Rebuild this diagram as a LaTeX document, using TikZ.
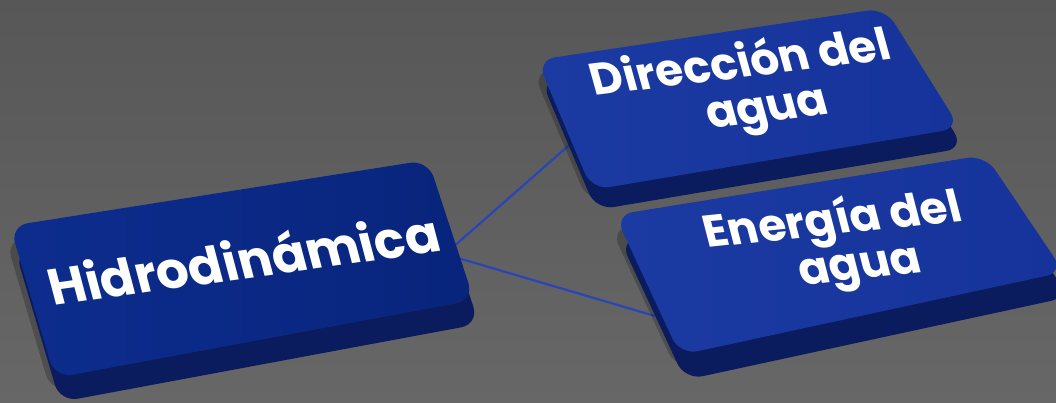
\documentclass[tikz,border=0pt]{standalone}
\usepackage{fontspec}
\setmainfont{Poppins}
\definecolor{bgtop}{HTML}{575757}
\definecolor{bgbot}{HTML}{676767}
\definecolor{conncol}{HTML}{2A45B8}
\definecolor{topA}{HTML}{0D2D8E}
\definecolor{topB}{HTML}{08247C}
\definecolor{topC}{HTML}{1C3BA2}
\definecolor{topD}{HTML}{15339A}
\definecolor{sidecol}{HTML}{0A1C5E}
\tikzset{
  conn/.style={draw=conncol, line width=2.2pt},
  sideface/.style={fill=sidecol, rounded corners=18pt},
  dropshadow/.style={fill=black, opacity=0.22, rounded corners=18pt},
  topface/.style={rounded corners=18pt},
  lbl/.style={text=white, inner sep=0pt, align=center},
  bigfont/.style={font=\bfseries\fontsize{51}{56}\selectfont},
  midfont/.style={font=\bfseries\fontsize{45}{47}\selectfont}
}
\begin{document}
\begin{tikzpicture}[x=1pt,y=-1pt]
\useasboundingbox (0,0) rectangle (1056,403);
\shade[top color=bgtop, bottom color=bgbot] (0,0) rectangle (1056,403);

% connector end points
\coordinate (hR1) at (452,248);
\coordinate (dL) at (575,140);
\coordinate (hR2) at (458,258);
\coordinate (eL) at (655,316);
\draw[conn] (hR1) -- (dL);
\draw[conn] (hR2) -- (eL);

% left box: Hidrodinamica
\begin{scope}[shift={(-4,14)}]
  \fill[dropshadow] (10,226) -- (428,160) -- (474,300) -- (55,378) -- cycle;
\end{scope}
\begin{scope}[shift={(5,24)}]
  \fill[sideface] (10,226) -- (428,160) -- (474,300) -- (55,378) -- cycle;
\end{scope}
\shade[topface, left color=topA, right color=topB] (10,226) -- (428,160) -- (474,300) -- (55,378) -- cycle;

% Energia box
\begin{scope}[shift={(-4,14)}]
  \fill[dropshadow] (615,215) -- (985,155) -- (1064,272) -- (680,355) -- cycle;
\end{scope}
\begin{scope}[shift={(5,25)}]
  \fill[sideface] (615,215) -- (985,155) -- (1064,272) -- (680,355) -- cycle;
\end{scope}
\shade[topface, left color=topC, right color=topD] (615,215) -- (985,155) -- (1064,272) -- (680,355) -- cycle;

% Direccion box
\begin{scope}[shift={(-4,12)}]
  \fill[dropshadow] (537,60) -- (885,8) -- (960,128) -- (592,190) -- cycle;
\end{scope}
\begin{scope}[shift={(4,20)}]
  \fill[sideface] (537,60) -- (885,8) -- (960,128) -- (592,190) -- cycle;
\end{scope}
\shade[topface, left color=topC, right color=topD] (537,60) -- (885,8) -- (960,128) -- (592,190) -- cycle;

% labels
\node[lbl, bigfont, rotate=8, xslant=-0.12] (h) at (243,258) {Hidrodinámica};
\node[lbl, midfont, rotate=7, xslant=-0.15] (d) at (747,88) {Dirección del\\\hspace*{28pt}agua};
\node[lbl, midfont, rotate=6, xslant=-0.15] (e) at (839,245) {Energía del\\\hspace*{30pt}agua};
\end{tikzpicture}
\end{document}
